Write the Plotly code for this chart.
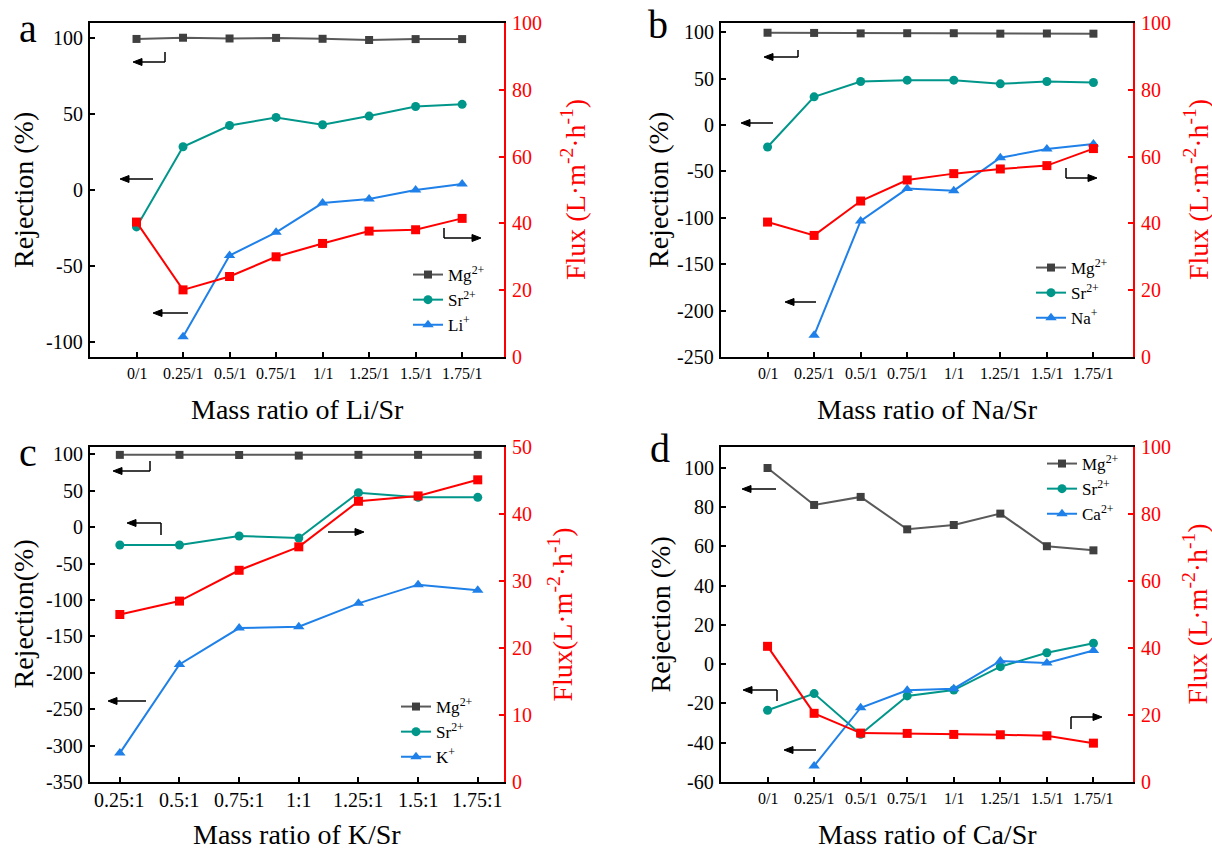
import plotly.graph_objects as go

# ---------------- data ----------------
cat_li = ["0/1", "0.25/1", "0.5/1", "0.75/1", "1/1", "1.25/1", "1.5/1", "1.75/1"]
a_mg = [99.5, 100.3, 99.8, 100.2, 99.6, 98.8, 99.4, 99.4]
a_sr = [-24.3, 28.5, 42.5, 47.8, 43.0, 48.7, 55.0, 56.4]
a_li = [None, -96.7, -43.2, -27.9, -8.6, -5.9, 0.0, 4.0]
a_flux = [40.4, 20.1, 24.1, 30.0, 34.0, 37.7, 38.1, 41.5]
a_rej_ticks = [-100, -50, 0, 50, 100]
a_flux_ticks = [0, 20, 40, 60, 80, 100]

cat_na = ["0/1", "0.25/1", "0.5/1", "0.75/1", "1/1", "1.25/1", "1.5/1", "1.75/1"]
b_mg = [99.5, 99.3, 98.8, 99.0, 99.0, 98.5, 98.7, 98.5]
b_sr = [-23.7, 30.4, 46.9, 48.4, 48.4, 44.4, 46.9, 45.9]
b_na = [None, -226.6, -103.3, -68.5, -70.7, -35.2, -25.8, -20.5]
b_flux = [40.4, 36.4, 46.7, 53.0, 54.9, 56.3, 57.3, 62.4]
b_rej_ticks = [-250, -200, -150, -100, -50, 0, 50, 100]
b_flux_ticks = [0, 20, 40, 60, 80, 100]

cat_k = ["0.25:1", "0.5:1", "0.75:1", "1:1", "1.25:1", "1.5:1", "1.75:1"]
c_mg = [99.2, 99.2, 99.0, 98.2, 99.2, 99.2, 99.2]
c_sr = [-24.5, -24.5, -12.2, -14.9, 47.3, 40.9, 40.9]
c_k = [-310.3, -188.5, -138.6, -136.7, -104.7, -79.0, -86.8]
c_flux = [25.0, 27.0, 31.6, 35.1, 41.9, 42.7, 45.1]
c_rej_ticks = [-350, -300, -250, -200, -150, -100, -50, 0, 50, 100]
c_flux_ticks = [0, 10, 20, 30, 40, 50]

cat_ca = ["0/1", "0.25/1", "0.5/1", "0.75/1", "1/1", "1.25/1", "1.5/1", "1.75/1"]
d_mg = [99.8, 81.0, 85.1, 68.6, 70.8, 76.6, 60.0, 57.9]
d_sr = [-23.5, -15.0, -35.7, -16.2, -13.2, -1.3, 5.8, 10.6]
d_ca = [None, -51.8, -22.2, -13.3, -12.5, 1.6, 0.6, 6.9]
d_flux = [40.5, 20.5, 14.6, 14.5, 14.2, 14.1, 13.8, 11.6]
d_rej_ticks = [-60, -40, -20, 0, 20, 40, 60, 80, 100]
d_flux_ticks = [0, 20, 40, 60, 80, 100]

# ---------------- style ----------------
FONT = "Liberation Serif"
GREY_L, GREY_M = "#5a5a5a", "#404040"
TEAL = "#00968a"
BLUE = "#1e80e8"
RED = "#ff0000"
W, H = 1212, 848


def px(x):
    return x / W


def py(y):
    return 1 - y / H


fig = go.Figure()

panels = [
    dict(cats=cat_li, mg=a_mg, sr=a_sr, third=a_li, flux=a_flux, third_name="Li<sup>+</sup>",
         rt=a_rej_ticks, ft=a_flux_ticks,
         xl=90, xr_=504, yt=23, yb=357, yr=[-110, 110], fr=[0, 100],
         xr=[-1.0, 7.9], xtitle="Mass ratio of Li/Sr", ytitle="Rejection (%)",
         ftitle="Flux (L·m<sup>-2</sup>·h<sup>-1</sup>)", xfs=16, xty=373, xtt=410,
         ytx=23, ftx=573, leg=(408, 257),
         mg_name="Mg<sup>2+</sup>", sr_name="Sr<sup>2+</sup>"),
    dict(cats=cat_na, mg=b_mg, sr=b_sr, third=b_na, flux=b_flux, third_name="Na<sup>+</sup>",
         rt=b_rej_ticks, ft=b_flux_ticks,
         xl=721, xr_=1133, yt=23, yb=357, yr=[-250, 110], fr=[0, 100],
         xr=[-1.0, 7.85], xtitle="Mass ratio of Na/Sr", ytitle="Rejection (%)",
         ftitle="Flux (L·m<sup>-2</sup>·h<sup>-1</sup>)", xfs=16, xty=373, xtt=410,
         ytx=658, ftx=1196, leg=(1031, 250),
         mg_name="Mg<sup>2+</sup>", sr_name="Sr<sup>2+</sup>"),
    dict(cats=cat_k, mg=c_mg, sr=c_sr, third=c_k, flux=c_flux, third_name="K<sup>+</sup>",
         rt=c_rej_ticks, ft=c_flux_ticks,
         xl=90, xr_=504, yt=447, yb=782, yr=[-350, 110], fr=[0, 50],
         xr=[-0.5, 6.44], xtitle="Mass ratio of K/Sr", ytitle="Rejection(%)",
         ftitle="Flux(L·m<sup>-2</sup>·h<sup>-1</sup>)", xfs=20, xty=800, xtt=834,
         ytx=23, ftx=561, leg=(396, 689),
         mg_name="Mg<sup>2+</sup>", sr_name="Sr<sup>2+</sup>"),
    dict(cats=cat_ca, mg=d_mg, sr=d_sr, third=d_ca, flux=d_flux, third_name="Ca<sup>2+</sup>",
         rt=d_rej_ticks, ft=d_flux_ticks,
         xl=721, xr_=1133, yt=447, yb=782, yr=[-60, 110.5], fr=[0, 100],
         xr=[-1.0, 7.85], xtitle="Mass ratio of Ca/Sr", ytitle="Rejection (%)",
         ftitle="Flux (L·m<sup>-2</sup>·h<sup>-1</sup>)", xfs=16, xty=798, xtt=834,
         ytx=660, ftx=1196, leg=(1042, 446),
         mg_name="Mg<sup>2+</sup>", sr_name="Sr<sup>2+</sup>"),
]

layout = {}
annotations = []
shapes = []


def txt(x, y, s, size, color="black", xref="paper", yref="paper", xanchor="center",
        yanchor="middle", angle=0):
    annotations.append(dict(xref=xref, yref=yref, x=x, y=y, text=s, showarrow=False,
                            xanchor=xanchor, yanchor=yanchor, textangle=angle,
                            font=dict(family=FONT, size=size, color=color)))


for i, p in enumerate(panels):
    xn = "x" if i == 0 else f"x{i+1}"
    yl = 2 * i + 1
    yr_ = 2 * i + 2
    yln = "y" if yl == 1 else f"y{yl}"
    yrn = f"y{yr_}"
    legn = "legend" if i == 0 else f"legend{i+1}"

    common = dict(mode="lines+markers", xaxis=xn, legend=legn)
    fig.add_trace(go.Scatter(x=p["cats"], y=p["mg"], name=p["mg_name"], yaxis=yln,
                             line=dict(color=GREY_L, width=2),
                             marker=dict(symbol="square", size=8, color=GREY_M), **common))
    fig.add_trace(go.Scatter(x=p["cats"], y=p["sr"], name=p["sr_name"], yaxis=yln,
                             line=dict(color=TEAL, width=2),
                             marker=dict(symbol="circle", size=9, color=TEAL), **common))
    fig.add_trace(go.Scatter(x=p["cats"], y=p["third"], name=p["third_name"], yaxis=yln,
                             line=dict(color=BLUE, width=2),
                             marker=dict(symbol="triangle-up", size=10, color=BLUE), **common))
    fig.add_trace(go.Scatter(x=p["cats"], y=p["flux"], name="Flux", yaxis=yrn, showlegend=False,
                             line=dict(color=RED, width=2),
                             marker=dict(symbol="square", size=9, color=RED), **common))

    xkey = "xaxis" if i == 0 else f"xaxis{i+1}"
    ylkey = "yaxis" if yl == 1 else f"yaxis{yl}"
    yrkey = f"yaxis{yr_}"
    layout[xkey] = dict(domain=[px(p["xl"]), px(p["xr_"])], anchor=yln, type="category",
                        range=p["xr"], showline=True, linecolor="black", linewidth=2, mirror=True,
                        ticks="inside", ticklen=5, tickwidth=1.5, tickcolor="black",
                        showgrid=False, zeroline=False, showticklabels=False)
    layout[ylkey] = dict(domain=[py(p["yb"]), py(p["yt"])], anchor=xn, range=p["yr"],
                         tickmode="array", tickvals=p["rt"],
                         showline=True, linecolor="black", linewidth=2,
                         ticks="inside", ticklen=5, tickwidth=1.5, tickcolor="black",
                         showgrid=False, zeroline=False, showticklabels=False)
    layout[yrkey] = dict(overlaying=yln, side="right", anchor=xn, range=p["fr"],
                         tickmode="array", tickvals=p["ft"],
                         showline=True, linecolor=RED, linewidth=2,
                         ticks="inside", ticklen=5, tickwidth=1.5, tickcolor=RED,
                         showgrid=False, zeroline=False, showticklabels=False)
    layout[legn] = dict(x=px(p["leg"][0]), y=py(p["leg"][1]), xanchor="left", yanchor="top",
                        bgcolor="rgba(0,0,0,0)", borderwidth=0, tracegroupgap=0,
                        itemwidth=30,
                        font=dict(family=FONT, size=17, color="black"))

    # tick labels and titles as text
    for c in p["cats"]:
        txt(c, py(p["xty"]), c, p["xfs"], xref=xn)
    for v in p["rt"]:
        txt(px(p["xl"] - 5), v, f"{v}", 20, yref=yln, xanchor="right")
    for v in p["ft"]:
        txt(px(p["xr_"] + 6), v, f"{v}", 20, color=RED, yref=yrn, xanchor="left")
    ymid = (p["yt"] + p["yb"]) / 2
    txt(px((p["xl"] + p["xr_"]) / 2), py(p["xtt"]), p["xtitle"], 28)
    txt(px(p["ytx"]), py(ymid), p["ytitle"], 28, angle=-90)
    txt(px(p["ftx"]), py(ymid), p["ftitle"], 28, color=RED, angle=-90)


# ---------------- arrows (decorations, in page pixels) ----------------
def seg(x0, y0, x1, y1):
    shapes.append(dict(type="line", xref="paper", yref="paper", x0=px(x0), x1=px(x1),
                       y0=py(y0), y1=py(y1), line=dict(color="black", width=1.5)))


def harrow(x_tail, x_head, y):
    d = 1 if x_head > x_tail else -1
    base = x_head - d * 9
    seg(x_tail, y, base, y)
    path = (f"M {px(x_head)},{py(y)} L {px(base)},{py(y - 3.5)} "
            f"L {px(base)},{py(y + 3.5)} Z")
    shapes.append(dict(type="path", xref="paper", yref="paper", path=path,
                       fillcolor="black", line=dict(color="black", width=1)))


# panel a
seg(165, 52, 165, 62); harrow(165, 133, 62)
harrow(153, 120, 179)
harrow(188, 153, 313)
seg(444, 228, 444, 238); harrow(444, 481, 238)
# panel b
seg(798, 50, 798, 57); harrow(798, 764, 57)
harrow(773, 741, 123)
harrow(816, 785, 302)
seg(1066, 168, 1066, 178); harrow(1066, 1097, 178)
# panel c
seg(150, 461, 150, 471); harrow(150, 113, 471)
seg(161, 535, 161, 523); harrow(161, 127, 523)
harrow(328, 364, 532)
harrow(146, 108, 701)
# panel d
harrow(776, 742, 489)
seg(777, 701, 777, 690); harrow(777, 743, 690)
harrow(816, 784, 750)
seg(1071, 729, 1071, 717); harrow(1071, 1102, 717)

# panel letters
for letter, x, y in [("a", 28, 28), ("b", 658, 25), ("c", 28, 452), ("d", 660, 449)]:
    txt(px(x), py(y), letter, 40)

fig.update_layout(template="none", font=dict(family=FONT, color="black"))
fig.update_layout(**layout)
fig.update_layout(width=W, height=H, margin=dict(l=0, r=0, t=0, b=0),
                  paper_bgcolor="white", plot_bgcolor="white",
                  shapes=shapes, annotations=annotations)

fig.write_html("out.html", config={"displayModeBar": False},
               post_script="document.body.style.margin='0px';document.body.style.overflow='hidden';")
